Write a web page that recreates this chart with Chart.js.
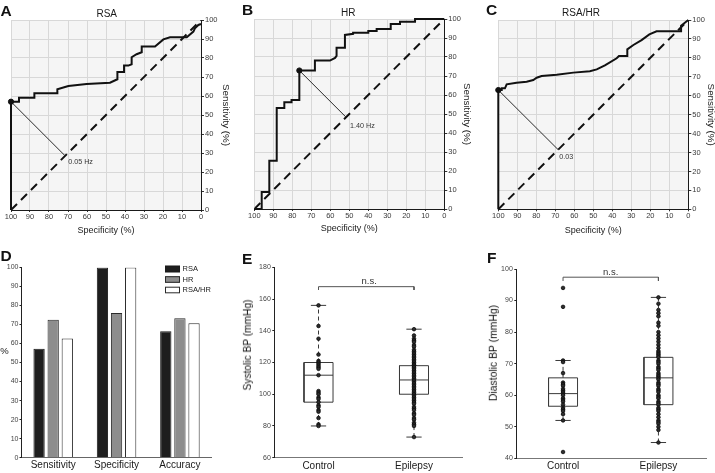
<!DOCTYPE html>
<html>
<head>
<meta charset="utf-8">
<script src="https://cdn.jsdelivr.net/npm/chart.js@4.4.1/dist/chart.umd.min.js"></script>
<style>
html,body{margin:0;padding:0;background:#fff;width:715px;height:473px;overflow:hidden;position:relative;
  font-family:"Liberation Sans",Arial,Helvetica,sans-serif;}
canvas{position:absolute;}
.t{position:absolute;white-space:nowrap;color:#1a1a1a;line-height:1;}
</style>
</head>
<body>
<canvas id="cA" width="240" height="242" style="left:0;top:0"></canvas>
<canvas id="cB" width="235" height="242" style="left:240px;top:0"></canvas>
<canvas id="cC" width="242" height="242" style="left:475px;top:0"></canvas>
<canvas id="cD" width="240" height="228" style="left:0;top:245px"></canvas>
<canvas id="cE" width="235" height="228" style="left:240px;top:245px"></canvas>
<canvas id="cF" width="240" height="228" style="left:475px;top:245px"></canvas>
<script>
// ---------------- DATA ----------------
// Panel A: RSA ROC curve (specificity %, sensitivity %)
const rsaSpecificity = [100,100,95.8,95.8,87.7,87.7,75.6,75.6,69.8,60.2,47.9,44,44,40.5,40.5,38.2,36.5,36.5,33.9,31.2,31.2,24.2,19.8,16.3,7.5,4,3.2,1.4,0];
const rsaSensitivity = [0,57,57,59.1,59.1,61.4,61.4,63.5,65.3,66.3,67,68.8,72.6,72.6,76,76,76.7,80.4,82,83,86,86,89.8,90.9,90.9,93.9,95.6,97.4,97.9];
const rsaCutoff = [100, 57];
const rsaCutoffLabel = '0.05 Hz';

// Panel B: HR ROC curve
const hrSpecificity = [100,96.1,96.1,92.1,92.1,88.2,88.2,84.2,84.2,80.4,80.4,76.3,76.3,68.1,68.1,60.2,57.5,56.7,56.7,52.3,52.3,48,48,40,40,35.6,35.6,28.2,28.2,23.3,23.3,15.4,15.4,0];
const hrSensitivity = [0,0,8.9,8.9,25.4,25.4,53.1,53.1,56.2,56.2,57.4,57.4,72.9,72.9,78.1,78.1,79.5,80.6,84.9,84.9,91.6,92.2,92.8,92.8,93.7,93.7,94.7,94.7,97.4,97.4,98.6,98.6,100,100];
const hrCutoff = [76.3, 72.9];
const hrCutoffLabel = '1.40 Hz';

// Panel C: RSA/HR ROC curve
const ratioSpecificity = [100,100,98.2,98.2,96.5,95.6,90.4,85.1,81.6,79.8,77.2,69.3,60.5,51.8,48.2,43.9,37.7,36.5,32.1,32.1,28.9,24.6,20.5,16.7,3.8,3.8,2.5,0];
const ratioSensitivity = [0,63,63,63.9,63.9,66,66.9,67.4,68.3,69.5,70.4,71.1,72.2,72.9,73.9,76,79.8,81,81,84.5,86.8,89.4,92.4,94,94,97,98,100];
const ratioCutoff = [100, 63];
const ratioCutoffLabel = '0.03';

// Panel D: classification performance (%)
const metricCategories = ['Sensitivity', 'Specificity', 'Accuracy'];
const metricSeries = ['RSA', 'HR', 'RSA/HR'];
const rsaMetrics = [57.2, 100, 66.5];
const hrMetrics = [72.5, 76, 73.3];
const ratioMetrics = [62.6, 100, 70.7];

// Panels E/F: groups
const bpGroups = ['Control', 'Epilepsy'];

// Panel E: systolic BP (mmHg)
const sbpControl = [156,143,135,125,121,120,119,118,117,116,112,102,101,100,98,97,95,93,92,90,89,85,81,80];
const sbpEpilepsy = [141,137,135,134,133,131,130,128,127,126,125,124,123,122,121,120,119,118,118,117,116,115,114,113,112,111,110,109,108,107,106,105,104,103,102,101,100,99,98,97,96,95,94,92,91,90,88,87,85,84,82,81,80,73];
const sbpQ1 = [95, 100];
const sbpMedian = [112, 109];
const sbpQ3 = [120, 118];
const sbpLow = [80, 73];
const sbpHigh = [156, 141];

// Panel F: diastolic BP (mmHg)
const dbpControl = [94,88,71,70.5,67,64,63.5,63,62,61.5,61,60.5,60,59,58.5,58,57,56,55.5,55,54,52,42];
const dbpEpilepsy = [91,89,87,86,85,83,82,80,79,78,77,76,75,74,73.5,73,72.5,72,71,70.5,70,69,68.5,68,67,66.5,66,65.5,65,64,63.5,63,62,61.5,61,60,59.5,59,58,57.5,57,56,55.5,55,54,53,52,51.5,51,50,49,45];
const dbpQ1 = [56.5, 57];
const dbpMedian = [60.5, 65.5];
const dbpQ3 = [65.5, 72];
const dbpLow = [52, 45];
const dbpHigh = [71, 91];

// ---------------- SETUP ----------------
const FONT = '"Liberation Sans", Arial, Helvetica, sans-serif';
Chart.defaults.font.family = FONT;
Chart.defaults.color = '#333';
Chart.defaults.animation = false;
Chart.defaults.plugins.legend.display = false;
Chart.defaults.plugins.tooltip.enabled = false;

const plotBg = {
  id: 'plotBg',
  beforeDraw(chart) {
    const a = chart.chartArea, ctx = chart.ctx;
    ctx.save(); ctx.fillStyle = '#f5f5f5';
    ctx.fillRect(a.left, a.top, a.right - a.left, a.bottom - a.top);
    ctx.restore();
  }
};

function makeRoc(id, spec, sens, cut, cutLabel, g) {
  const curve = spec.map((s, i) => ({x: s, y: sens[i]}));
  const foot = {x: (cut[0] - cut[1] + 100) / 2, y: (cut[1] - cut[0] + 100) / 2};
  const labelPlugin = {
    id: 'cutLabel',
    afterDatasetsDraw(chart) {
      const ctx = chart.ctx, xs = chart.scales.x, ys = chart.scales.y;
      ctx.save();
      ctx.font = '7.2px ' + FONT; ctx.fillStyle = '#333';
      ctx.textAlign = 'left'; ctx.textBaseline = 'middle';
      ctx.fillText(cutLabel, xs.getPixelForValue(foot.x) + g.lx, ys.getPixelForValue(foot.y) + g.ly);
      ctx.restore();
    }
  };
  return new Chart(document.getElementById(id), {
    type: 'scatter',
    data: {datasets: [
      {data: [{x: cut[0], y: cut[1]}], pointRadius: 2.6, pointBackgroundColor: '#111', pointBorderColor: '#111', clip: 4},
      {data: [{x: cut[0], y: cut[1]}, foot], showLine: true, pointRadius: 0, borderColor: '#2a2a2a', borderWidth: 1},
      {data: curve, showLine: true, pointRadius: 0, borderColor: '#111', borderWidth: 2, clip: 4},
      {data: [{x: 100, y: 0}, {x: 0, y: 100}], showLine: true, pointRadius: 0, borderColor: '#111', borderWidth: 2, borderDash: [8.5, 5.6]}
    ]},
    options: {
      responsive: false,
      layout: {autoPadding: false, padding: {left: g.L, top: g.T, right: 0, bottom: 0}},
      scales: {
        x: {type: 'linear', position: 'bottom', reverse: true, min: 0, max: 100,
          ticks: {stepSize: 10, autoSkip: false, maxRotation: 0, font: {size: 7.5}, color: '#3a3a3a', padding: 0},
          grid: {color: '#d8d8d8', lineWidth: 1, drawTicks: true, tickLength: 2, tickColor: '#333'},
          border: {display: true, color: '#1a1a1a', width: 1},
          title: {display: true, text: 'Specificity (%)', font: {size: 9}, color: '#1a1a1a', padding: {top: 0, bottom: g.xtp}},
          afterFit(s) { s.height = g.Hx; }},
        y: {type: 'linear', position: 'right', min: 0, max: 100,
          ticks: {stepSize: 10, autoSkip: false, font: {size: 7.5}, color: '#3a3a3a', padding: 1},
          grid: {color: '#d8d8d8', lineWidth: 1, drawTicks: true, tickLength: 3, tickColor: '#333'},
          border: {display: true, color: '#1a1a1a', width: 1},
          title: {display: true, text: 'Sensitivity (%)', font: {size: 9.8}, color: '#1a1a1a', padding: {top: g.ytp, bottom: 0}},
          afterFit(s) { s.width = g.Wy; }}
      }
    },
    plugins: [plotBg, labelPlugin]
  });
}

makeRoc('cA', rsaSpecificity, rsaSensitivity, rsaCutoff, rsaCutoffLabel,
  {L: 11, T: 20, Hx: 32, Wy: 39, xtp: 6.1, ytp: 8.6, lx: 3, ly: 6.5});
makeRoc('cB', hrSpecificity, hrSensitivity, hrCutoff, hrCutoffLabel,
  {L: 14.3, T: 19, Hx: 33, Wy: 30.7, xtp: 7.9, ytp: 2.8, lx: 4, ly: 8.7});
makeRoc('cC', ratioSpecificity, ratioSensitivity, ratioCutoff, ratioCutoffLabel,
  {L: 23.3, T: 20, Hx: 32.7, Wy: 28.7, xtp: 5.8, ytp: 0.6, lx: 1, ly: 7});

// ---------------- PANEL D ----------------
const barLegend = {
  id: 'barLegend',
  afterDraw(chart) {
    const ctx = chart.ctx;
    ctx.save();
    chart.data.datasets.forEach((ds, i) => {
      const x = 165, y = 20.7 + i * 10.5, w = 15, h = 6.6;
      ctx.fillStyle = ds.backgroundColor; ctx.fillRect(x, y, w, h);
      ctx.strokeStyle = ds.borderColor; ctx.lineWidth = 1; ctx.strokeRect(x + 0.5, y + 0.5, w - 1, h - 1);
      ctx.fillStyle = '#222'; ctx.font = '7.5px ' + FONT; ctx.textBaseline = 'middle'; ctx.textAlign = 'left';
      ctx.fillText(ds.label, x + w + 2.5, y + h / 2);
    });
    ctx.restore();
  }
};
new Chart(document.getElementById('cD'), {
  type: 'bar',
  data: {labels: metricCategories, datasets: [
    {label: metricSeries[0], data: rsaMetrics, backgroundColor: '#1e1e1e', borderColor: '#1a1a1a', borderWidth: 1},
    {label: metricSeries[1], data: hrMetrics, backgroundColor: '#8d8d8d', borderColor: '#2a2a2a', borderWidth: 1},
    {label: metricSeries[2], data: ratioMetrics, backgroundColor: '#ffffff', borderColor: '#2a2a2a', borderWidth: 1}
  ]},
  options: {
    responsive: false,
    layout: {autoPadding: false, padding: {left: 0, top: 22.5, right: 28.4, bottom: 0}},
    datasets: {bar: {categoryPercentage: 0.668, barPercentage: 0.80}},
    scales: {
      x: {grid: {display: false, drawTicks: false}, border: {color: '#666', width: 1},
        ticks: {font: {size: 10}, color: '#1a1a1a', padding: 1.8, maxRotation: 0},
        afterFit(s) { s.height = 15.4; }},
      y: {min: 0, max: 100, ticks: {stepSize: 10, font: {size: 7}, color: '#444', padding: 1},
        grid: {drawOnChartArea: false, drawTicks: true, tickLength: 2, tickColor: '#222'},
        border: {color: '#222', width: 1},
        afterFit(s) { s.width = 21.5; }}
    }
  },
  plugins: [barLegend]
});

// ---------------- PANELS E / F ----------------
function makeBox(id, groupsData, q1, med, q3, lo, hi, g) {
  const datasets = [];
  const bw = 0.152, cw = 0.08;
  groupsData.forEach((vals, gi) => datasets.push({
    data: vals.map(v => ({x: gi, y: v})), pointRadius: 1.8, pointBackgroundColor: '#2e2e2e',
    pointBorderColor: '#0a0a0a', pointBorderWidth: 0.8, showLine: false, clip: 4}));
  const line = (pts, dash) => ({data: pts, showLine: true, pointRadius: 0, borderColor: '#3a3a3a', borderWidth: 1, borderDash: dash || [], clip: 4});
  groupsData.forEach((_, i) => {
    const c = i;
    datasets.push(line([{x: c - bw, y: q1[i]}, {x: c + bw, y: q1[i]}, {x: c + bw, y: q3[i]}, {x: c - bw, y: q3[i]}, {x: c - bw, y: q1[i]}]));
    datasets.push(line([{x: c - bw, y: med[i]}, {x: c + bw, y: med[i]}]));
    datasets.push(line([{x: c, y: q3[i]}, {x: c, y: hi[i]}], [4, 3]));
    datasets.push(line([{x: c, y: lo[i]}, {x: c, y: q1[i]}], [4, 3]));
    datasets.push(line([{x: c - cw, y: hi[i]}, {x: c + cw, y: hi[i]}]));
    datasets.push(line([{x: c - cw, y: lo[i]}, {x: c + cw, y: lo[i]}]));
  });
  datasets.push({data: [{x: 0, y: g.legY}, {x: 0, y: g.topY}, {x: 1, y: g.topY}, {x: 1, y: g.legY}],
    showLine: true, pointRadius: 0, borderColor: '#555', borderWidth: 1, clip: 4});
  const nsPlugin = {
    id: 'ns',
    afterDatasetsDraw(chart) {
      const ctx = chart.ctx;
      ctx.save(); ctx.font = '9.5px ' + FONT; ctx.fillStyle = '#333';
      ctx.textAlign = 'center'; ctx.textBaseline = 'middle';
      ctx.fillText('n.s.', chart.scales.x.getPixelForValue(g.nsX), chart.scales.y.getPixelForValue(g.nsY));
      ctx.restore();
    }
  };
  return new Chart(document.getElementById(id), {
    type: 'scatter',
    data: {datasets},
    options: {
      responsive: false,
      layout: {autoPadding: false, padding: {left: 0, top: g.T, right: g.R, bottom: 0}},
      scales: {
        x: {type: 'linear', min: g.xmin, max: g.xmax,
          afterBuildTicks(s) { s.ticks = bpGroups.map((_, i) => ({value: i})); },
          ticks: {callback: v => bpGroups[v], font: {size: 10}, color: '#1a1a1a', padding: g.xpad, autoSkip: false, maxRotation: 0},
          grid: {drawOnChartArea: false, drawTicks: false}, border: {color: '#777', width: 1},
          afterFit(s) { s.height = g.Hx; }},
        y: {min: g.ymin, max: g.ymax, ticks: {stepSize: g.step, font: {size: 7}, color: '#444', padding: 1.5},
          grid: {drawOnChartArea: false, drawTicks: true, tickLength: 2, tickColor: '#222'},
          border: {color: '#222', width: 1},
          afterFit(s) { s.width = g.Wy; }}
      }
    },
    plugins: [nsPlugin]
  });
}

makeBox('cE', [sbpControl, sbpEpilepsy], sbpQ1, sbpMedian, sbpQ3, sbpLow, sbpHigh,
  {T: 22.3, R: 12.3, Hx: 15.3, Wy: 34.3, xmin: -0.463, xmax: 1.51, xpad: 2.3, ymin: 60, ymax: 180, step: 20,
   legY: 165.7, topY: 167.8, nsX: 0.53, nsY: 171.4});
makeBox('cF', [dbpControl, dbpEpilepsy], dbpQ1, dbpMedian, dbpQ3, dbpLow, dbpHigh,
  {T: 24, R: 8.3, Hx: 14.7, Wy: 41.3, xmin: -0.49, xmax: 1.506, xpad: 1.7, ymin: 40, ymax: 100, step: 10,
   legY: 96.2, topY: 97.4, nsX: 0.5, nsY: 99});

// ---------------- HTML TEXT ----------------
function addText(txt, x, y, size, opts) {
  opts = opts || {};
  const d = document.createElement('div');
  d.className = 't';
  d.textContent = txt;
  d.style.fontSize = size + 'px';
  if (opts.bold) d.style.fontWeight = 'bold';
  if (opts.color) d.style.color = opts.color;
  d.style.left = x + 'px';
  d.style.top = y + 'px';
  if (opts.center) d.style.transform = 'translate(-50%,-50%)' + (opts.rotate ? ' rotate(' + opts.rotate + 'deg)' : '');
  document.body.appendChild(d);
}
// panel letters
[['A', 0.5, 3], ['B', 242, 2], ['C', 486, 2], ['D', 0.5, 248], ['E', 242, 251], ['F', 487, 250]]
  .forEach(([l, x, y]) => addText(l, x, y, 15.5, {bold: true, color: '#111'}));
addText('RSA', 106.7, 14, 10, {center: true});
addText('HR', 348.3, 12.9, 10, {center: true});
addText('RSA/HR', 581, 13.4, 10, {center: true});
addText('%', 4.4, 350.8, 9.5, {center: true});
addText('Systolic BP (mmHg)', 248.3, 345, 10.2, {center: true, rotate: -90, color: '#111'});
addText('Diastolic BP (mmHg)', 494, 352.5, 10.4, {center: true, rotate: -90, color: '#111'});
</script>
</body>
</html>
